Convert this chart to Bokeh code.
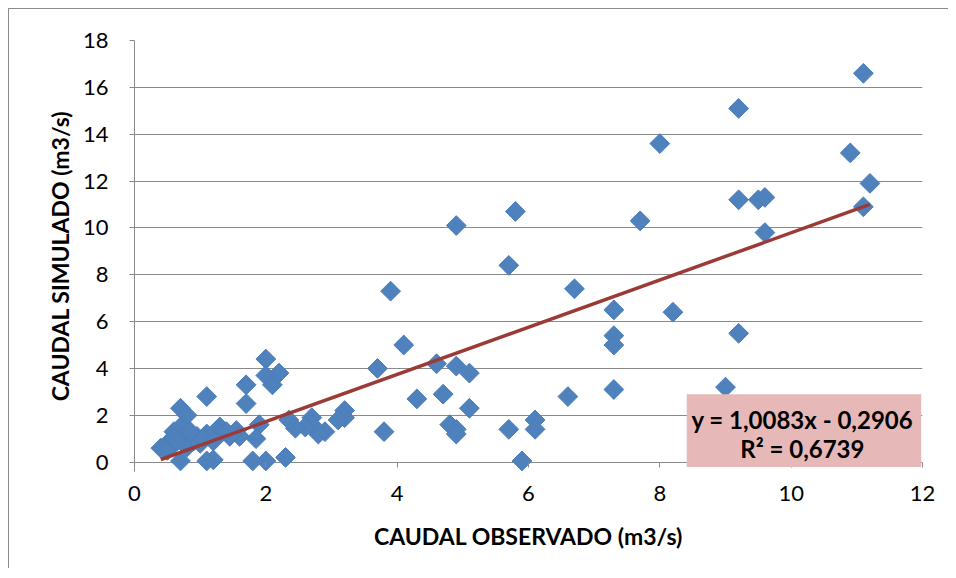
from bokeh.plotting import figure
from bokeh.models import FixedTicker, BoxAnnotation, Label, ColumnDataSource
from bokeh.embed import file_html
from bokeh.resources import INLINE
import numpy as np

# Observed (x) and simulated (y) flows, m3/s
observado = [11.1, 9.2, 8.0, 10.9, 11.2, 9.2, 9.5, 9.6, 11.1, 9.6,
             7.7, 5.8, 4.9, 5.7, 6.7, 3.9, 7.3, 8.2, 7.3, 7.3,
             9.2, 4.1, 3.7, 4.6, 4.9, 5.1, 7.3, 9.0, 6.6, 4.3,
             4.7, 5.1, 4.8, 4.9, 4.9, 5.7, 6.1, 6.1, 5.9, 3.8,
             3.2, 3.2, 3.1, 2.9, 2.8, 2.7, 2.7, 2.6, 2.45, 2.35,
             2.3, 2.0, 1.8, 2.0, 2.2, 2.0, 2.1, 1.7, 1.7, 1.9,
             1.85, 1.55, 1.6, 1.45, 1.3, 1.3, 1.1, 1.1, 1.2, 1.1,
             0.7, 0.7, 0.8, 0.6, 0.7, 0.75, 0.9, 0.8, 0.5, 0.4,
             0.5, 0.6, 0.95, 1.0, 1.05, 1.2, 1.4, 0.65, 0.85]
simulado = [16.6, 15.1, 13.6, 13.2, 11.9, 11.2, 11.2, 11.3, 10.9, 9.8,
            10.3, 10.7, 10.1, 8.4, 7.4, 7.3, 6.5, 6.4, 5.4, 5.0,
            5.5, 5.0, 4.0, 4.2, 4.1, 3.8, 3.1, 3.2, 2.8, 2.7,
            2.9, 2.3, 1.6, 1.4, 1.2, 1.4, 1.8, 1.4, 0.05, 1.3,
            2.2, 1.9, 1.8, 1.3, 1.2, 1.9, 1.6, 1.5, 1.45, 1.8,
            0.2, 0.05, 0.05, 4.4, 3.8, 3.7, 3.3, 3.3, 2.5, 1.6,
            1.0, 1.35, 1.1, 1.1, 1.5, 1.2, 1.2, 2.8, 0.1, 0.05,
            0.05, 2.3, 2.0, 1.3, 1.5, 1.1, 0.9, 0.65, 0.8, 0.6,
            0.5, 1.0, 1.1, 0.8, 1.0, 0.9, 1.3, 0.9, 1.3]

slope = 1.0083
intercept = -0.2906
r2 = 0.6739

x_ticks = [0, 2, 4, 6, 8, 10, 12]
y_ticks = [0, 2, 4, 6, 8, 10, 12, 14, 16, 18]

FONT = "Lato"
GRID = "#8a8a8a"

p = figure(width=940, height=560, output_backend="svg", toolbar_location=None,
           x_range=(0, 12), y_range=(-0.4, 18),
           min_border_left=125, min_border_right=27, min_border_top=31,
           min_border_bottom=98)
p.styles = {"margin-left": "8px", "margin-top": "8px",
            "border-left": "1px solid #8c8c8c", "border-top": "1px solid #8c8c8c"}
p.outline_line_color = None
p.background_fill_color = "white"
p.border_fill_color = "white"

p.xgrid.visible = False
p.ygrid.ticker = FixedTicker(ticks=y_ticks)
p.ygrid.grid_line_color = GRID
p.ygrid.grid_line_width = 1

# axes
xa = p.xaxis[0]
xa.ticker = FixedTicker(ticks=x_ticks)
xa.axis_line_color = None
xa.major_tick_line_color = GRID
xa.major_tick_in = 9
xa.major_tick_out = -4
xa.minor_tick_in = 0
xa.minor_tick_out = 0
xa.minor_tick_line_color = None
xa.major_label_standoff = 14
xa.major_label_text_font = FONT
xa.major_label_text_font_size = "22px"
xa.major_label_text_color = "black"
xa.axis_label = "CAUDAL OBSERVADO (m3/s)"
xa.axis_label_text_font = FONT
xa.axis_label_text_font_size = "23px"
xa.axis_label_text_font_style = "bold"
xa.axis_label_text_color = "black"
xa.axis_label_standoff = 18

ya = p.yaxis[0]
ya.ticker = FixedTicker(ticks=y_ticks)
ya.axis_line_color = GRID
ya.major_tick_line_color = GRID
ya.major_tick_in = 0
ya.major_tick_out = 5
ya.minor_tick_in = 0
ya.minor_tick_out = 0
ya.minor_tick_line_color = None
ya.major_label_standoff = 21
ya.major_label_text_font = FONT
ya.major_label_text_font_size = "22px"
ya.major_label_text_color = "black"
ya.axis_label = "CAUDAL SIMULADO (m3/s)"
ya.axis_label_text_font = FONT
ya.axis_label_text_font_size = "23px"
ya.axis_label_text_font_style = "bold"
ya.axis_label_text_color = "black"
ya.axis_label_standoff = 6

src = ColumnDataSource(dict(x=observado, y=simulado))
p.scatter("x", "y", source=src, marker="square", size=14, angle=np.pi / 4,
          fill_color="#4F81BD", line_color="#4A7EBB", line_width=1)

# trend line over observed range
xl = [min(observado), max(observado)]
yl = [slope * v + intercept for v in xl]
p.line(xl, yl, line_color="#9B3A36", line_width=3.5)

# equation box
box = BoxAnnotation(left=8.41, right=11.98, bottom=-0.21, top=2.9,
                    fill_color="#E6B9B8", fill_alpha=1.0, line_color=None)
p.add_layout(box)
eq = "y = " + f"{slope:.4f}".replace(".", ",") + "x - " + f"{-intercept:.4f}".replace(".", ",")
rr = "R² = " + f"{r2:.4f}".replace(".", ",")
p.add_layout(Label(x=10.17, y=1.83, text=eq, text_align="center", text_baseline="middle",
                   text_font=FONT, text_font_size="24px", text_font_style="bold",
                   text_color="black"))
p.add_layout(Label(x=10.17, y=0.6, text=rr, text_align="center", text_baseline="middle",
                   text_font=FONT, text_font_size="24px", text_font_style="bold",
                   text_color="black"))

open("out.html", "w").write(file_html(p, INLINE))
